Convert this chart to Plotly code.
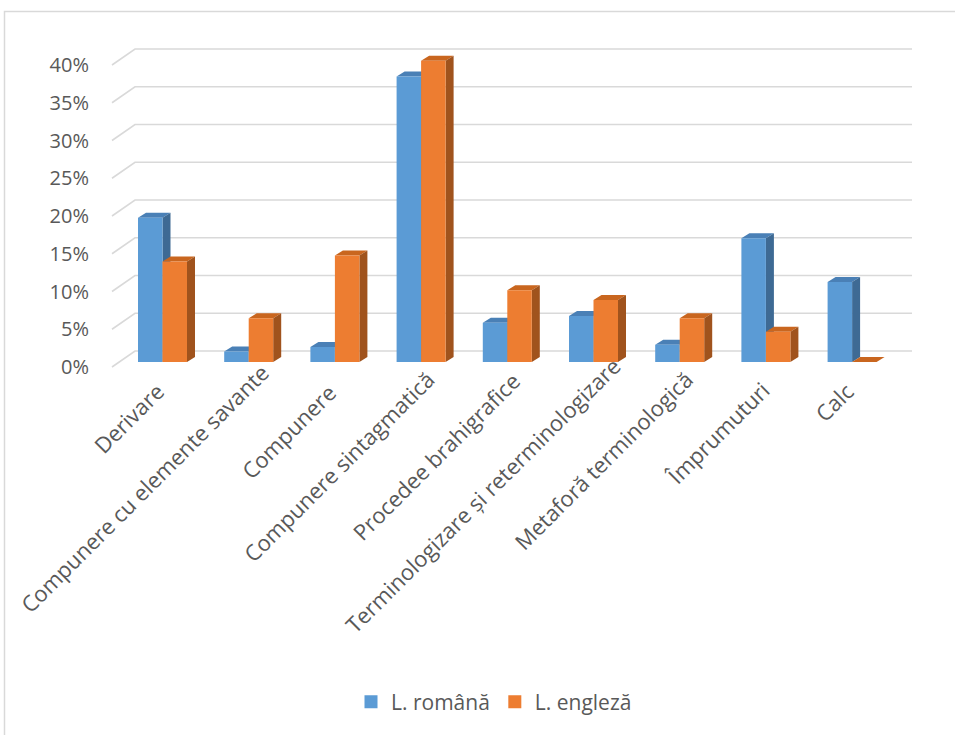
import plotly.graph_objects as go

# ---------------- data ----------------
categories = [
    "Derivare",
    "Compunere cu elemente savante",
    "Compunere",
    "Compunere sintagmatică",
    "Procedee brahigrafice",
    "Terminologizare și reterminologizare",
    "Metaforă terminologică",
    "Împrumuturi",
    "Calc",
]
romana = [19.1, 1.4, 2.0, 37.8, 5.2, 6.1, 2.3, 16.4, 10.6]
engleza = [13.3, 5.8, 14.1, 39.9, 9.5, 8.2, 5.8, 4.0, 0.0]
series_names = ["L. română", "L. engleză"]
y_ticks = [0, 5, 10, 15, 20, 25, 30, 35, 40]
y_tick_labels = [f"{v}%" for v in y_ticks]

# ---------------- geometry / style ----------------
W, H = 955, 735
L, R, T, B = 100, 930, 30, 372
CAT_PX = 86.2          # px per category
CAT0_PX = 162.5        # px of first category centre
PCT_PX = 7.55          # px per 1 %
FRONT0_PX = 367        # px of 0% on the front plane

xr = [(L - CAT0_PX) / CAT_PX, (R - CAT0_PX) / CAT_PX]
yr = [(FRONT0_PX - B) / PCT_PX, (FRONT0_PX - T) / PCT_PX]

bw = 24.5 / CAT_PX        # bar front width
base = 5 / PCT_PX         # bar baseline lift (bars sit behind the front plane)
ddx = 8 / CAT_PX          # bar depth, x
ddy = 5 / PCT_PX          # bar depth, y
wall_x0 = (112 - CAT0_PX) / CAT_PX
wall_x1 = (135 - CAT0_PX) / CAT_PX
wall_x2 = (912 - CAT0_PX) / CAT_PX
wall_dy = 16 / PCT_PX

colors = {
    "blue": dict(front="#5B9BD5", top="#4A80B6", side="#3E6A94"),
    "orange": dict(front="#ED7D31", top="#C9661F", side="#A0531D"),
}
font_color = "#595959"
grid_color = "#D9D9D9"
FONT = "Open Sans"
CAT_FONT = 22
LABEL_DX, LABEL_DY = 10, -2     # base offset of category label end (px)
LABEL_SLIDE = 0.95              # px slide per extra character along the label direction

fig = go.Figure()

# gridlines (3-D wall)
gx, gy = [], []
for v in y_ticks:
    gx += [wall_x0, wall_x1, wall_x2, None]
    gy += [v, v + wall_dy, v + wall_dy, None]
fig.add_trace(go.Scatter(x=gx, y=gy, mode="lines", line=dict(color=grid_color, width=1.6),
                         hoverinfo="skip", showlegend=False))


def faces(values, offset):
    top_x, top_y, side_x, side_y, fr_x, fr_y = [], [], [], [], [], []
    for i, v in enumerate(values):
        x0 = i + offset
        x1 = x0 + bw
        y0 = base
        y1 = base + v
        fr_x += [x0, x1, x1, x0, x0, None]
        fr_y += [y0, y0, y1, y1, y0, None]
        top_x += [x0, x1, x1 + ddx, x0 + ddx, x0, None]
        top_y += [y1, y1, y1 + ddy, y1 + ddy, y1, None]
        side_x += [x1, x1 + ddx, x1 + ddx, x1, x1, None]
        side_y += [y0, y0 + ddy, y1 + ddy, y1, y0, None]
    return (top_x, top_y), (side_x, side_y), (fr_x, fr_y)


for vals, off, ckey in [(romana, -bw, "blue"), (engleza, 0.0, "orange")]:
    top, side, front = faces(vals, off)
    for (xx, yy), col in [(top, colors[ckey]["top"]), (side, colors[ckey]["side"]),
                          (front, colors[ckey]["front"])]:
        fig.add_trace(go.Scatter(x=xx, y=yy, mode="none", fill="toself", fillcolor=col,
                                 hoverinfo="skip", showlegend=False))

# legend entries
for name, ckey in zip(series_names, ["blue", "orange"]):
    fig.add_trace(go.Scatter(x=[None], y=[None], mode="markers", name=name,
                             marker=dict(symbol="square", size=13, color=colors[ckey]["front"])))

# category labels (rotated, Excel-like placement)
annotations = []
for i, cat in enumerate(categories):
    s = LABEL_SLIDE * max(0, len(cat) - 9)
    annotations.append(dict(
        x=i, xref="x", y=0, yref="paper", text=cat, showarrow=False,
        textangle=-45, xanchor="right", yanchor="top",
        xshift=LABEL_DX + s, yshift=LABEL_DY + s,
        font=dict(family=FONT, size=CAT_FONT, color=font_color)))

fig.update_layout(
    width=W, height=H,
    margin=dict(l=L, r=W - R, t=T, b=H - B),
    paper_bgcolor="white", plot_bgcolor="white",
    font=dict(family=FONT, color=font_color, size=19),
    showlegend=True,
    legend=dict(orientation="h", x=(494 - L) / (R - L), xanchor="center",
                y=(B - 702) / (B - T), yanchor="middle",
                font=dict(size=21, color=font_color), itemwidth=30, tracegroupgap=0),
    xaxis=dict(range=xr, tickmode="array", tickvals=list(range(len(categories))),
               ticktext=[""] * len(categories), showgrid=False, zeroline=False,
               showline=False, ticks=""),
    yaxis=dict(range=yr, tickmode="array", tickvals=y_ticks, ticktext=y_tick_labels,
               showgrid=False, zeroline=False, showline=False, ticks="",
               ticklabelstandoff=10, tickfont=dict(size=20, color=font_color)),
    annotations=annotations,
    shapes=[dict(type="path", xref="paper", yref="paper",
                 path=f"M {(4.5 - L) / (R - L)},{(B - 760) / (B - T)} L {(4.5 - L) / (R - L)},{(B - 11.5) / (B - T)} L {(980 - L) / (R - L)},{(B - 11.5) / (B - T)}",
                 line=dict(color=grid_color, width=1.5))],
)

fig.write_html("out.html")
